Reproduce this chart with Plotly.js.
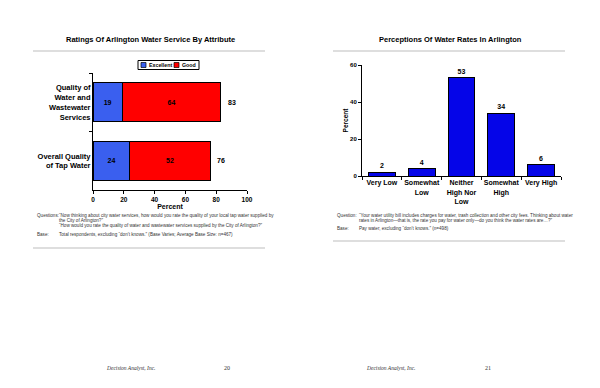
<!DOCTYPE html>
<html>
<head>
<meta charset="utf-8">
<script src="https://cdn.plot.ly/plotly-3.0.1.min.js"></script>
<style>html,body{margin:0;padding:0;background:#fff;}#chart{width:600px;height:388px;}</style>
</head>
<body>
<div id="chart"></div>
<script>
// ---- Data: left chart (horizontal stacked bars) ----
const attrCategories = ["Quality of<br>Water and<br>Wastewater<br>Services", "Overall Quality<br>of Tap Water"];
const seriesNames = ["Excellent", "Good"];
const excellentValues = [19, 24];
const goodValues = [64, 52];
const totalValues = [83, 76];
const percentTicks = [0, 20, 40, 60, 80, 100];

// ---- Data: right chart (vertical bars) ----
const rateCategories = ["Very Low", "Somewhat<br>Low", "Neither<br>High Nor<br>Low", "Somewhat<br>High", "Very High"];
const rateValues = [2, 4, 53, 34, 6];
const rateTicks = [0, 20, 40, 60];

const FONT = "Liberation Sans, Arial, sans-serif";
const SERIF = "Liberation Serif, Times New Roman, serif";
const px = (x) => x / 600;
const py = (y) => (388 - y) / 388;
const colors = {excellent: "#3A5FEF", good: "#FF0000", rate: "#0505E8"};

const traces = [
  {
    type: "bar", orientation: "h", name: seriesNames[0],
    y: attrCategories, x: excellentValues,
    text: excellentValues.map(String), textposition: "inside", insidetextanchor: "middle",
    textfont: {family: FONT, size: 7, color: "#000", weight: "bold"},
    marker: {color: colors.excellent, line: {color: "#000", width: 1}},
    xaxis: "x", yaxis: "y", hoverinfo: "skip"
  },
  {
    type: "bar", orientation: "h", name: seriesNames[1],
    y: attrCategories, x: goodValues,
    text: goodValues.map(String), textposition: "inside", insidetextanchor: "middle",
    textfont: {family: FONT, size: 7, color: "#000", weight: "bold"},
    marker: {color: colors.good, line: {color: "#000", width: 1}},
    xaxis: "x", yaxis: "y", hoverinfo: "skip"
  },
  {
    type: "bar", name: "Percent",
    x: rateCategories, y: rateValues,
    text: rateValues.map(String), textposition: "outside",
    textfont: {family: FONT, size: 7, color: "#000", weight: "bold"},
    marker: {color: colors.rate, line: {color: "#000", width: 1}},
    xaxis: "x2", yaxis: "y2", cliponaxis: false, hoverinfo: "skip"
  }
];

function note(text, x, y, font, anchor) {
  return {text: text, x: px(x), y: py(y), xref: "paper", yref: "paper", xanchor: anchor || "left", yanchor: "middle", showarrow: false, font: font};
}
const noteFont = {family: FONT, size: 4.6, color: "#333"};
const annotations = [
  note("<b>Ratings Of Arlington Water Service By Attribute</b>", 150, 40, {family: FONT, size: 7.5, color: "#000"}, "center"),
  note("<b>Perceptions Of Water Rates In Arlington</b>", 450, 40, {family: FONT, size: 7.5, color: "#000"}, "center"),
  // left notes
  note("Questions:", 35, 215.5, noteFont),
  note("\u201CNow thinking about city water services, how would you rate the quality of your local tap water supplied by", 57, 215.5, noteFont),
  note("the City of Arlington?\u201D", 57, 220, noteFont),
  note("\u201CHow would you rate the quality of water and wastewater services supplied by the City of Arlington?\u201D", 57, 226, noteFont),
  note("Base:", 35, 234, noteFont),
  note("Total respondents, excluding \u201Cdon\u2019t knows.\u201D (Base Varies; Average Base Size: n=467)", 57, 234, noteFont),
  // right notes
  note("Question:", 335, 215.5, noteFont),
  note("\u201CYour water utility bill includes charges for water, trash collection and other city fees. Thinking about water", 357, 215.5, noteFont),
  note("rates in Arlington\u2014that is, the rate you pay for water only\u2014do you think the water rates are\u2026?\u201D", 357, 220, noteFont),
  note("Base:", 335, 228, noteFont),
  note("Pay water, excluding \u201Cdon\u2019t knows.\u201D (n=498)", 357, 228, noteFont),
  // footers
  note("<i>Decision Analyst, Inc.</i>", 130, 368, {family: SERIF, size: 5.5, color: "#333"}, "center"),
  note("20", 227, 368, {family: SERIF, size: 6, color: "#333"}, "center"),
  note("<i>Decision Analyst, Inc.</i>", 391, 368, {family: SERIF, size: 5.5, color: "#333"}, "center"),
  note("21", 488, 368, {family: SERIF, size: 6, color: "#333"}, "center"),
  // manual compact legend labels
  note("<b>" + seriesNames[0] + "</b>", 146.5, 65, {family: FONT, size: 5.3, color: "#000"}),
  note("<b>" + seriesNames[1] + "</b>", 179.5, 65, {family: FONT, size: 5.3, color: "#000"})
];
// totals to the right of stacked bars
attrCategories.forEach((c, i) => {
  annotations.push({text: "<b>" + totalValues[i] + "</b>", x: totalValues[i], y: c, xref: "x", yref: "y", xanchor: "left", yanchor: "middle", xshift: 5, showarrow: false, font: {family: FONT, size: 7, color: "#000"}});
});

const lineStyle = {color: "#bdbdbd", width: 1};
const shapes = [
  {type: "line", xref: "paper", yref: "paper", x0: px(33), x1: px(265), y0: py(51), y1: py(51), line: lineStyle},
  {type: "line", xref: "paper", yref: "paper", x0: px(333), x1: px(565), y0: py(51), y1: py(51), line: lineStyle},
  {type: "line", xref: "paper", yref: "paper", x0: px(33), x1: px(265), y0: py(248), y1: py(248), line: lineStyle},
  {type: "line", xref: "paper", yref: "paper", x0: px(333), x1: px(565), y0: py(241), y1: py(241), line: lineStyle},
  // legend box and swatches
  {type: "rect", xref: "paper", yref: "paper", x0: px(138), x1: px(199), y0: py(69.5), y1: py(60.5), line: {color: "#000", width: 1}, fillcolor: "#fff"},
  {type: "rect", xref: "paper", yref: "paper", x0: px(141), x1: px(146), y0: py(67.5), y1: py(62.5), line: {color: "#000", width: 0.7}, fillcolor: colors.excellent},
  {type: "rect", xref: "paper", yref: "paper", x0: px(174), x1: px(179), y0: py(67.5), y1: py(62.5), line: {color: "#000", width: 0.7}, fillcolor: colors.good}
];

const axisBase = {showgrid: false, zeroline: false, showline: true, linecolor: "#000", linewidth: 1, ticks: "outside", ticklen: 3, tickcolor: "#000", fixedrange: true};
const layout = {
  width: 600, height: 388,
  margin: {l: 0, r: 0, t: 0, b: 0},
  paper_bgcolor: "#fff", plot_bgcolor: "#fff",
  font: {family: FONT, color: "#000"},
  barmode: "stack", bargap: 0.33,
  showlegend: false,
  xaxis: Object.assign({}, axisBase, {domain: [px(93), px(247)], anchor: "y", range: [0, 100], tickvals: percentTicks, tickfont: {family: FONT, size: 6.5, weight: "bold"}, title: {text: "<b>Percent</b>", font: {family: FONT, size: 7}, standoff: 2}}),
  yaxis: Object.assign({}, axisBase, {domain: [py(190), py(73)], anchor: "x", type: "category", autorange: "reversed", tickson: "boundaries", tickfont: {family: FONT, size: 7.5, weight: "bold"}}),
  xaxis2: Object.assign({}, axisBase, {domain: [px(362), px(561)], anchor: "y2", type: "category", tickson: "boundaries", tickangle: 0, tickfont: {family: FONT, size: 7, weight: "bold"}}),
  yaxis2: Object.assign({}, axisBase, {domain: [py(176), py(65)], anchor: "x2", range: [0, 60], tickvals: rateTicks, tickfont: {family: FONT, size: 6, weight: "bold"}, title: {text: "<b>Percent</b>", font: {family: FONT, size: 6.5}, standoff: 0}}),
  annotations: annotations,
  shapes: shapes
};

Plotly.newPlot("chart", traces, layout, {staticPlot: true, displayModeBar: false});
</script>
</body>
</html>
